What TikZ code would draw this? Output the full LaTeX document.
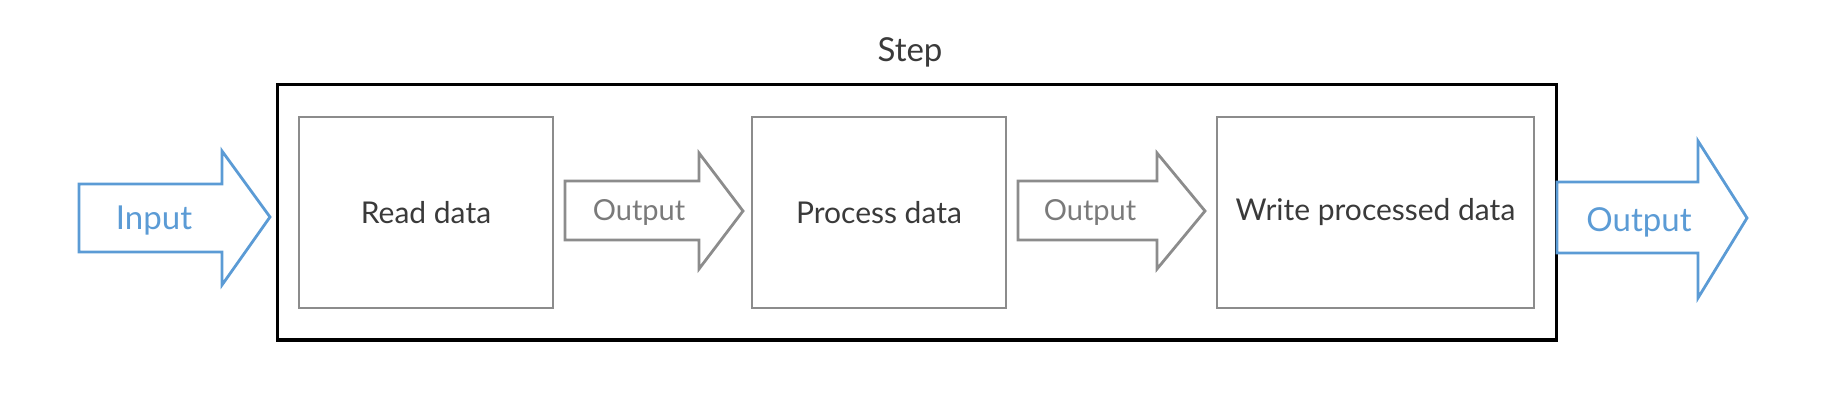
\documentclass[tikz,border=0pt]{standalone}
\usepackage{fontspec}
\setmainfont{Lato}
\definecolor{blueA}{HTML}{5B9BD5}
\definecolor{grayLine}{HTML}{8C8C8C}
\definecolor{grayText}{HTML}{7A7A7A}
\definecolor{darkText}{HTML}{3A3A3A}
\begin{document}
\begin{tikzpicture}[x=0.5pt,y=-0.5pt,
  outerbox/.style={draw=black,line width=1.5pt,minimum width=639.5pt,minimum height=127.5pt,inner sep=0pt},
  stepbox/.style={draw=grayLine,line width=1.4pt,minimum height=95.5pt,inner sep=0pt,text=darkText,font=\fontsize{15}{18}\selectfont},
  blueArrow/.style={draw=blueA,line width=1.4pt,line join=miter},
  grayArrow/.style={draw=grayLine,line width=1.4pt,line join=miter},
  blueLabel/.style={text=blueA,font=\fontsize{16.5}{20}\selectfont,inner sep=0pt},
  grayLabel/.style={text=grayText,font=\fontsize{14.5}{17}\selectfont,inner sep=0pt},
  titleLabel/.style={text=darkText,font=\fontsize{16.5}{20}\selectfont,inner sep=0pt}]
\useasboundingbox (0,0) rectangle (1826,406);
% outer frame
\node[outerbox] (outer) at (916.5,212.5) {};
\node[titleLabel] (title) at (910,52) {Step};
% step boxes
\node[stepbox,minimum width=127pt] (read) at (426,212.5) {Read data};
\node[stepbox,minimum width=127pt] (proc) at (879,212.5) {Process data};
\node[stepbox,minimum width=158.5pt] (write) at (1375.5,212.5) {Write processed data};
% input arrow
\draw[blueArrow] (79,184) -- (222,184) -- (222,151) -- (270,217) -- (222,285) -- (222,252) -- (79,252) -- cycle;
\node[blueLabel] (inlab) at (154,221) {Input};
% inner arrows
\draw[grayArrow] (565,181) -- (699,181) -- (699,153) -- (743,211) -- (699,269) -- (699,240) -- (565,240) -- cycle;
\node[grayLabel] (out1) at (639,212) {Output};
\draw[grayArrow] (1018,181) -- (1157,181) -- (1157,153) -- (1205,211) -- (1157,269) -- (1157,240) -- (1018,240) -- cycle;
\node[grayLabel] (out2) at (1090,212) {Output};
% output arrow
\draw[blueArrow] (1557,182) -- (1698,182) -- (1698,141) -- (1747,218) -- (1698,298) -- (1698,253) -- (1557,253) -- cycle;
\node[blueLabel] (outlab) at (1639,222) {Output};
\end{tikzpicture}
\end{document}
